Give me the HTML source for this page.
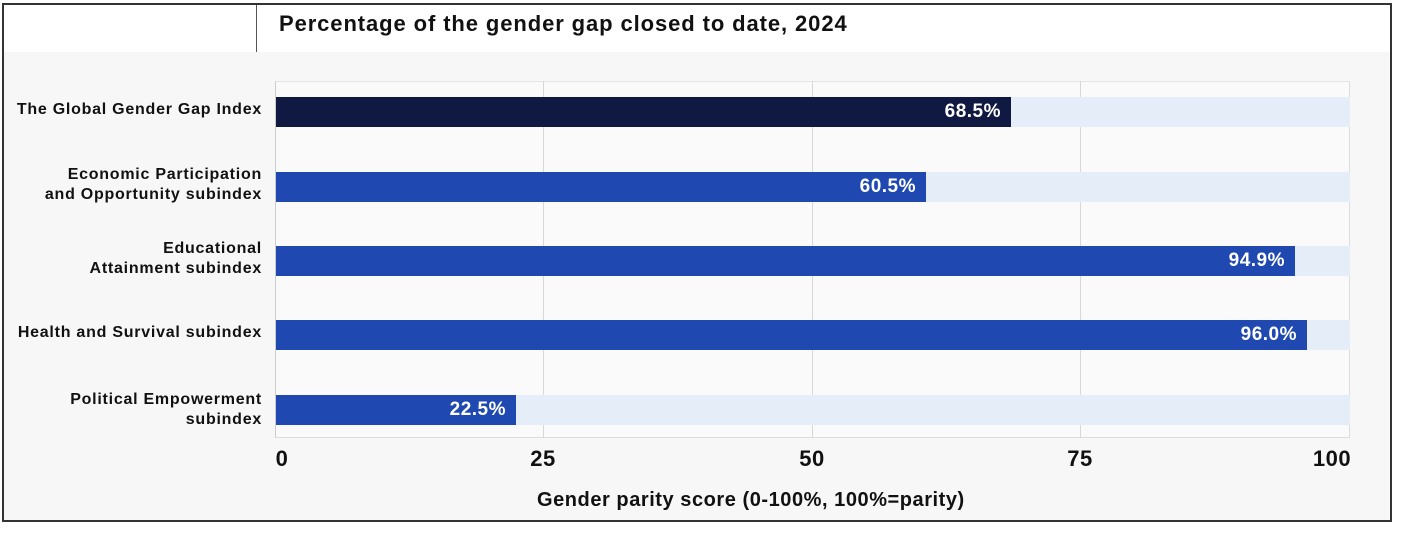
<!DOCTYPE html>
<html><head><style>
body{margin:0;width:1407px;height:538px;background:#fff;font-family:"Liberation Sans",sans-serif;position:relative;overflow:hidden}
.a{position:absolute}
.lab{position:absolute;right:1145px;text-align:right;font-size:16px;font-weight:bold;color:#111;line-height:20px;letter-spacing:0.75px;white-space:nowrap}
.trk{position:absolute;left:276px;width:1074px;height:30px;background:#e5edf9}
.bar{position:absolute;left:276px;height:30px;background:#1f48b0;color:#fff;font-weight:bold;font-size:19px;letter-spacing:0.5px;line-height:30px;text-align:right;box-sizing:border-box;padding-right:10px}
.g{position:absolute;top:81px;height:357px;width:1px;background:#d8d8d8}
.t{position:absolute;top:446px;font-size:22px;font-weight:bold;color:#111;width:60px;margin-left:-30px;text-align:center;letter-spacing:0.5px}
</style></head><body>
<div class="a" style="left:2px;top:3px;width:1386px;height:515px;border:2px solid #333;background:#f7f7f7"></div>
<div class="a" style="left:4px;top:5px;width:1386px;height:47px;background:#fff"></div>
<div class="a" style="left:256px;top:5px;width:1px;height:47px;background:#555"></div>
<div class="a" style="left:279px;top:11px;font-size:22px;font-weight:bold;color:#111;letter-spacing:0.9px;white-space:nowrap">Percentage of the gender gap closed to date, 2024</div>
<div class="a" style="left:275px;top:81px;width:1075px;height:357px;background:#fafafa;border-left:1px solid #ccc;border-top:1px solid #e4e4e4;border-right:1px solid #ddd;border-bottom:1px solid #ddd;box-sizing:border-box"></div>
<div class="g" style="left:543px"></div><div class="g" style="left:812px"></div><div class="g" style="left:1080px"></div>
<div class="trk" style="top:97px"></div><div class="bar" style="top:97px;width:735px;background:#0f1941">68.5%</div>
<div class="trk" style="top:172px"></div><div class="bar" style="top:172px;width:650px">60.5%</div>
<div class="trk" style="top:246px"></div><div class="bar" style="top:246px;width:1019px">94.9%</div>
<div class="trk" style="top:320px"></div><div class="bar" style="top:320px;width:1031px">96.0%</div>
<div class="trk" style="top:395px"></div><div class="bar" style="top:395px;width:240px">22.5%</div>
<div class="lab" style="top:100px">The Global Gender Gap Index</div>
<div class="lab" style="top:165px">Economic Participation<br>and Opportunity subindex</div>
<div class="lab" style="top:239px">Educational<br>Attainment subindex</div>
<div class="lab" style="top:323px">Health and Survival subindex</div>
<div class="lab" style="top:390px">Political Empowerment<br>subindex</div>
<div class="t" style="left:282px">0</div><div class="t" style="left:543px">25</div><div class="t" style="left:812px">50</div><div class="t" style="left:1080px">75</div><div class="t" style="left:1332px">100</div>
<div class="a" style="left:537px;top:489px;font-size:20px;font-weight:bold;color:#111;letter-spacing:0.55px;white-space:nowrap">Gender parity score (0-100%, 100%=parity)</div>
</body></html>
